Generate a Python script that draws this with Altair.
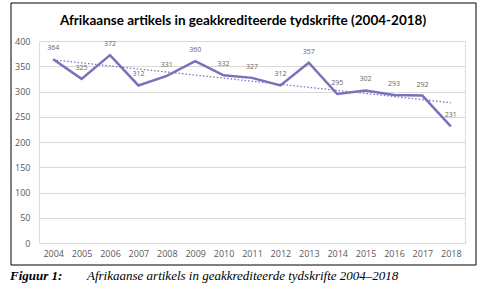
import altair as alt
import pandas as pd

years = list(range(2004, 2019))
counts = [364, 325, 372, 312, 331, 360, 332, 327, 312, 357, 295, 302, 293, 292, 231]
y_ticks = [0, 50, 100, 150, 200, 250, 300, 350, 400]
chart_title = "Afrikaanse artikels in geakkrediteerde tydskrifte (2004-2018)"
caption_label = "Figuur 1:"
caption_text = "Afrikaanse artikels in geakkrediteerde tydskrifte 2004\u20132018"

df = pd.DataFrame({"year": years, "count": counts})
purple = "#7B70BC"
gray = "#595959"

x = alt.X(
    "year:Q",
    scale=alt.Scale(domain=[2003.5, 2018.5], nice=False, zero=False),
    axis=alt.Axis(values=years, format="d", title=None, grid=False, domain=False,
                  ticks=False, labelPadding=6, labelFontSize=9, labelColor=gray,
                  labelFont="Open Sans"),
)
y = alt.Y(
    "count:Q",
    scale=alt.Scale(domain=[0, 400], nice=False),
    axis=alt.Axis(values=y_ticks, title=None, grid=True, gridColor="#D9D9D9",
                  domain=False, ticks=False, labelPadding=9, labelFontSize=9,
                  labelColor=gray, labelFont="Open Sans"),
)

base = alt.Chart(df)
line = base.mark_line(color=purple, strokeWidth=2.5).encode(x=x, y=y)
trend = (
    base.transform_regression("year", "count")
    .mark_line(color=purple, strokeDash=[1.5, 2], strokeWidth=1.3)
    .encode(x=x, y=y)
)
labels = base.mark_text(dy=-11, fontSize=7, color="#666666", font="Open Sans").encode(
    x=x, y=y, text="count:Q"
)

frame = alt.Chart(pd.DataFrame({"a": [0]})).mark_rect(
    fill="transparent", stroke="black", strokeWidth=1
).encode(x=alt.value(-28), x2=alt.value(437), y=alt.value(-38), y2=alt.value(224))

cap1 = alt.Chart(pd.DataFrame({"t": [caption_label]})).mark_text(
    align="left", baseline="middle", font="Liberation Serif", fontStyle="italic",
    fontWeight="bold", fontSize=13, color="black"
).encode(x=alt.value(-29), y=alt.value(235), text="t:N")

cap2 = alt.Chart(pd.DataFrame({"t": [caption_text]})).mark_text(
    align="left", baseline="middle", font="Liberation Serif", fontStyle="italic",
    fontSize=13, color="black"
).encode(x=alt.value(48), y=alt.value(235), text="t:N")

chart = (
    alt.layer(frame, trend, line, labels, cap1, cap2)
    .properties(
        width=426,
        height=202,
        autosize=alt.AutoSizeParams(type="none"),
        padding={"left": 39, "top": 41, "right": 22, "bottom": 46},
        title=alt.TitleParams(chart_title, font="Lato", fontSize=13.5, fontWeight="bold",
                              color="black", anchor="middle", dx=-9, offset=-39,
                              baseline="bottom"),
    )
    .configure_view(stroke=None)
    .configure(background="white")
)

chart.save("out.html", embed_options={"renderer": "svg", "actions": False})
